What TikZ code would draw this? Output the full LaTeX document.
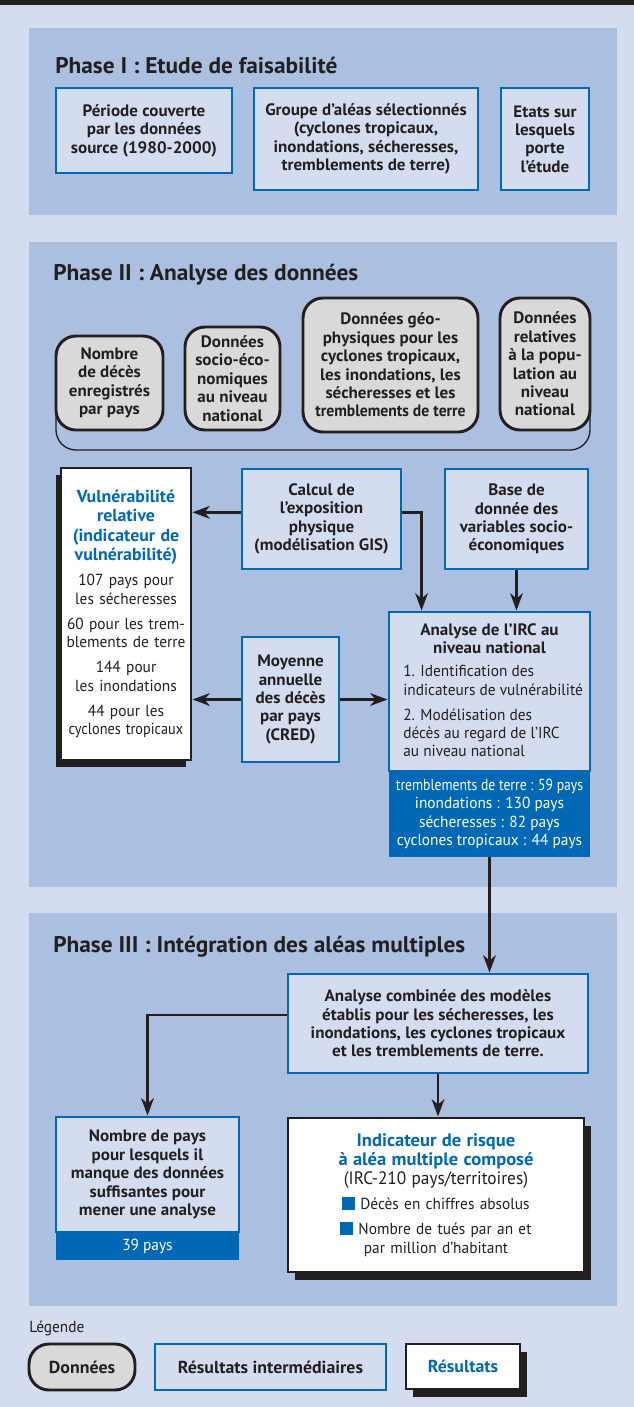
\documentclass[tikz,border=0pt]{standalone}
\usepackage{fontspec}
\usepackage{graphicx}
\setmainfont{PT Sans}[UprightFeatures={FakeStretch=0.96},BoldFeatures={FakeStretch=1.03}]
\usetikzlibrary{arrows.meta,shadows}
\definecolor{bglight}{HTML}{D4DDEF}
\definecolor{panel}{HTML}{ABBFE1}
\definecolor{ciblue}{HTML}{0068B4}
\definecolor{gbox}{HTML}{D9D9D9}
\definecolor{dk}{HTML}{231F20}
\newcommand\mkbox[7]{\node[#6, minimum width={(#4-#2)*0.75pt}, minimum height={(#5-#3)*0.75pt}] (#1) at ({(#2+#4)/2},{(#3+#5)/2}) {#7};}
\newcommand\cnd[2]{\scalebox{#1}[1]{#2}}
\begin{document}
\begin{tikzpicture}[x=0.75pt,y=-0.75pt,
 bt/.style={font=\fontsize{12.4}{13.8}\selectfont\bfseries, text=dk},
 rg/.style={font=\fontsize{12}{13.8}\selectfont, text=dk},
 lgt/.style={font=\fontsize{13}{15}\selectfont\bfseries, text=dk},
 inter/.style={draw=ciblue, line width=2.2pt, fill=bglight, align=center, inner sep=0pt},
 data/.style={draw=dk, line width=2.2pt, fill=gbox, rounded corners=15pt, align=center, inner sep=0pt},
 result/.style={draw=dk, line width=2.2pt, fill=white, align=center, inner sep=0pt},
 conn/.style={draw=dk, line width=2pt, -{Stealth[length=13pt,width=9.5pt,inset=4pt]}},
 title/.style={font=\fontsize{17}{20}\selectfont\bfseries, text=dk, anchor=west, inner sep=0pt},
 shl/.style={drop shadow={shadow xshift=-3.75pt,shadow yshift=-5.25pt,fill=dk,opacity=1}},
 shr/.style={drop shadow={shadow xshift=5.25pt,shadow yshift=-6pt,fill=dk,opacity=1}},
]
\fill[bglight] (0,0) rectangle (634,1407);
\useasboundingbox (0,0) rectangle (634,1407);
\fill[dk] (0,0) rectangle (634,5);
\fill[panel] (29,28) rectangle (617,215);
\fill[panel] (29,242) rectangle (617,887);
\fill[panel] (29,913) rectangle (617,1306);

\node[title] (t1) at (55,65) {Phase I : Etude de faisabilité};
\node[title] (t2) at (53,275) {Phase II : Analyse des données};
\node[title] (t3) at (53,947) {Phase III : Intégration des aléas multiples};

% Phase I
\mkbox{p1a}{56}{88}{232}{173}{inter,bt}{Période couverte\\par les données\\source (1980-2000)}
\mkbox{p1b}{254}{88}{478}{190}{inter,bt}{Groupe d’aléas sélectionnés\\(cyclones tropicaux,\\inondations, sécheresses,\\tremblements de terre)}
\mkbox{p1c}{501}{88}{589}{190}{inter,bt}{Etats sur\\lesquels\\porte\\l’étude}

% Phase II data
\draw[dk, line width=1pt, rounded corners=15pt] (56,400) |- (590,450) -- (590,400);
\mkbox{d1}{56}{336}{163}{430}{data,bt}{Nombre\\de décès\\enregistrés\\par pays}
\mkbox{d2}{185}{327}{280}{430}{data,bt}{Données\\socio-éco-\\nomiques\\au niveau\\national}
\mkbox{d3}{303}{298}{478}{432}{data,bt}{Données géo-\\physiques pour les\\cyclones tropicaux,\\les inondations, les\\sécheresses et les\\\cnd{0.92}{tremblements de terre}}
\mkbox{d4}{500}{298}{590}{430}{data,bt}{Données\\relatives\\à la popu-\\lation au\\niveau\\national}

\mkbox{vul}{61}{468}{191}{760}{result,shl,rg,text width=96pt}{{\color{ciblue}\fontsize{13}{14.6}\selectfont\bfseries Vulnérabilité\\relative\\(indicateur de\\vulnérabilité)\par}\vspace{5pt}107 pays pour\\les sécheresses\\[5pt]60 pour les trem-\\blements de terre\\[5pt]144 pour\\les inondations\\[5pt]44 pour les\\\cnd{0.93}{cyclones tropicaux}}
\mkbox{calc}{242}{469}{401}{569}{inter,bt}{Calcul de\\l’exposition\\physique\\(modélisation GIS)}
\mkbox{base}{445}{469}{588}{569}{inter,bt}{Base de\\donnée des\\variables socio-\\économiques}
\mkbox{moy}{242}{637}{339}{762}{inter,bt}{Moyenne\\annuelle\\des décès\\par pays\\(CRED)}
\mkbox{ircres}{389}{771}{590}{857}{fill=ciblue,inner sep=0pt,align=center,rg,text=white}{\cnd{0.89}{tremblements de terre : 59 pays}\\inondations : 130 pays\\sécheresses : 82 pays\\cyclones tropicaux : 44 pays}
\mkbox{irc}{389}{612}{590}{771}{inter}{}
\node[bt, anchor=north, align=center, inner sep=0pt] (irct) at (489.5,623) {Analyse de l’IRC au\\niveau national};
\node[rg, anchor=north west, align=left, inner sep=0pt] (ircl) at (403,665) {1. Identification des\\indicateurs de vulnérabilité\\[5pt]2. Modélisation des\\décès au regard de l’IRC\\au niveau national};

\draw[conn] ([yshift=5pt]calc.west) -- ([yshift=5pt]calc.west -| vul.east);
\draw[conn] ([yshift=5pt]calc.east) -| ([xshift=25.5pt]irc.north west);
\draw[conn] (base.south) -- (base.south |- irc.north);
\draw[conn] (moy.west) -- (moy.west -| vul.east);
\draw[conn] (moy.east) -- (moy.east -| irc.west);

% Phase III
\mkbox{comb}{288}{974}{588}{1073}{inter,bt}{Analyse combinée des modèles\\établis pour les sécheresses, les\\inondations, les cyclones tropicaux\\et les tremblements de terre.}
\mkbox{nbr}{56}{1117}{239}{1232}{inter,bt}{Nombre de pays\\pour lesquels il\\manque des données\\suffisantes pour\\mener une analyse}
\mkbox{nbrres}{56}{1232}{239}{1260}{fill=ciblue,inner sep=0pt,rg,text=white}{39 pays}
\mkbox{ind}{288}{1118}{584}{1272}{result,shr,rg,text width=210pt}{{\color{ciblue}\fontsize{13.5}{14.6}\selectfont\bfseries Indicateur de risque\\à aléa multiple composé\par}{\fontsize{13.5}{14}\selectfont(IRC-210 pays/territoires)\par}\vspace{5pt}\textcolor{ciblue}{\rule{9.5pt}{9.5pt}}~Décès en chiffres absolus\\[5pt]\textcolor{ciblue}{\rule{9.5pt}{9.5pt}}~Nombre de tués par an et\\par million d’habitant}

\draw[conn] (ircres.south) -- (ircres.south |- comb.north);
\draw[conn] ([yshift=6.4pt]comb.west) -| (nbr.north);
\draw[conn] (comb.south) -- (comb.south |- ind.north);

% Legend
\node[rg, anchor=west, inner sep=0pt] (leg) at (29,1328) {Légende};
\mkbox{lg1}{29}{1344}{135}{1390}{data,lgt}{Données}
\mkbox{lg2}{155}{1344}{386}{1390}{inter,lgt}{Résultats intermédiaires}
\mkbox{lg3}{406}{1344}{520}{1389}{result,shr,lgt,text=ciblue}{Résultats}
\end{tikzpicture}
\end{document}
